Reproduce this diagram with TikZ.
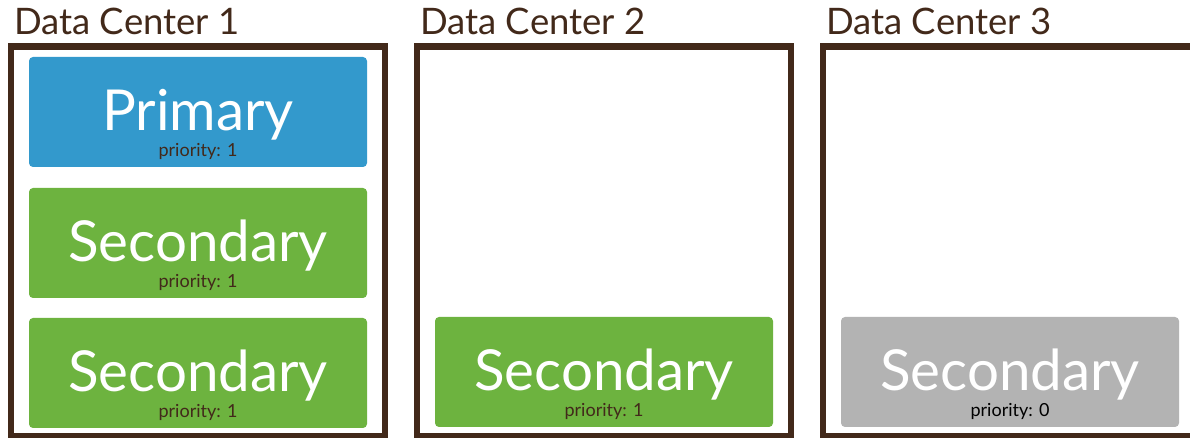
\documentclass[tikz,border=0pt]{standalone}
\usepackage{fontspec}
\setmainfont{Lato}
\usetikzlibrary{positioning,calc}
\definecolor{dcbrown}{HTML}{42291A}
\definecolor{primblue}{HTML}{3399CC}
\definecolor{secgreen}{HTML}{6DB33F}
\definecolor{hidgray}{HTML}{B3B3B3}

\begin{document}
\begin{tikzpicture}[
    x=1pt, y=1pt,
    dc/.style={draw=dcbrown, line width=6.5pt, minimum width=374pt, minimum height=389.5pt, inner sep=0pt, outer sep=0pt},
    title/.style={font=\fontsize{36.5}{36.5}\selectfont, text=dcbrown, anchor=base west, inner sep=0pt},
    member/.style={rounded corners=4pt, minimum width=338pt, minimum height=110pt, inner sep=0pt, outer sep=0pt},
    role/.style={font=\fontsize{56.5}{56.5}\selectfont, text=white, anchor=base, inner sep=0pt},
    prio/.style={font=\fontsize{18}{18}\selectfont, text=dcbrown, anchor=base, inner sep=0pt}
  ]
    \path[use as bounding box, clip] (0,0) rectangle (1190,438);
    % data centres
    \node[dc] (dc1) at (198,196.75) {};
    \node[dc, right=32pt of dc1] (dc2) {};
    \node[dc, right=32pt of dc2] (dc3) {};
    \node[title] (t1) at ($(dc1.north west)+(3,11.5)$) {Data Center 1};
    \node[title] (t2) at ($(dc2.north west)+(3,11.5)$) {Data Center 2};
    \node[title] (t3) at ($(dc3.north west)+(3,11.5)$) {Data Center 3};
    % members
    \node[member, fill=primblue, below=10.5pt of dc1.north] (p1) {};
    \node[member, fill=secgreen, below=21pt of p1] (s1) {};
    \node[member, fill=secgreen, below=20pt of s1] (s2) {};
    \node[member, fill=secgreen, above=9pt of dc2.south] (s3) {};
    \node[member, fill=hidgray, above=9pt of dc3.south] (s4) {};
    \node[role] (p1r) at ($(p1.north)+(0,-74)$) {Primary};
    \node[role] (s1r) at ($(s1.north)+(0,-74)$) {Secondary};
    \node[role] (s2r) at ($(s2.north)+(0,-74)$) {Secondary};
    \node[role] (s3r) at ($(s3.north)+(0,-74)$) {Secondary};
    \node[role] (s4r) at ($(s4.north)+(0,-74)$) {Secondary};
    \node[prio] (p1p) at ($(p1.south)+(0,10)$) {priority: 1};
    \node[prio] (s1p) at ($(s1.south)+(0,10)$) {priority: 1};
    \node[prio] (s2p) at ($(s2.south)+(0,10)$) {priority: 1};
    \node[prio] (s3p) at ($(s3.south)+(0,10)$) {priority: 1};
    \node[prio, text=black] (s4p) at ($(s4.south)+(0,10)$) {priority: 0};
  \end{tikzpicture}
\end{document}
